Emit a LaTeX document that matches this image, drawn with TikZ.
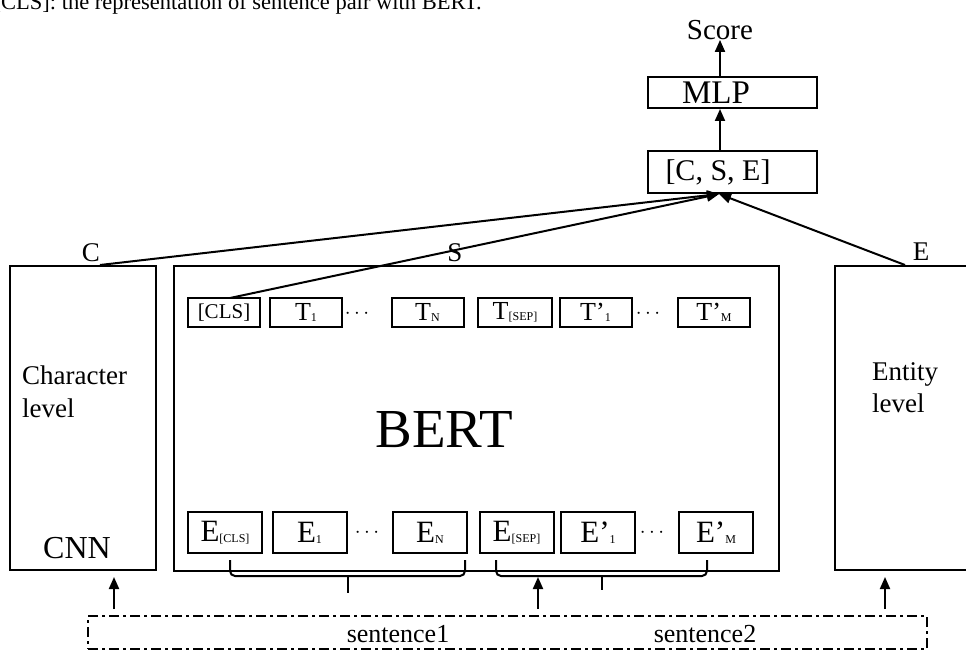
\documentclass[tikz,border=0pt]{standalone}
\usepackage{fontspec}
\setmainfont{Liberation Serif}
\usetikzlibrary{arrows.meta}
\newcommand\fsz[1]{\fontsize{#1}{#1}\selectfont}
\newcommand\sbs[1]{\raisebox{-1pt}{\fontsize{12}{12}\selectfont #1}}
\begin{document}
\begin{tikzpicture}[x=1pt,y=-1pt,
  bx/.style={draw, line width=2pt, inner sep=0pt},
  tb/.style={bx, minimum width=72pt, minimum height=29pt, font=\fsz{26}},
  eb/.style={bx, minimum width=74pt, minimum height=41pt, font=\fsz{31}},
  ar/.style={line width=2pt, -{Triangle[length=12pt,width=10pt]}},
  ln/.style={line width=2pt},
  txt/.style={inner sep=0pt},
  dts/.style={txt, font=\fsz{20}},
  dd/.style={line width=2pt, dash pattern=on 10pt off 4pt on 3pt off 4pt}]
\useasboundingbox (0,0) rectangle (966,650);

% caption fragment at the top (cut off in the reference)
\node[txt, anchor=base east, font=\fsz{22.5}] (cap) at (482,10) {[CLS]: the representation of sentence pair with BERT.};

% top stack
\node[txt, font=\fsz{29}] (score) at (720,30) {Score};
\node[bx, minimum width=169pt, minimum height=31pt] (mlp) at (732.5,92.5) {};
\node[txt, font=\fsz{33}] (mlpt) at (716,93) {MLP};
\node[bx, minimum width=169pt, minimum height=42pt] (cse) at (732.5,172) {};
\node[txt, font=\fsz{30}] (cset) at (718,172) {[C, S, E]};
\draw[ar] (mlp.north -| score.south) -- (score.south);
\draw[ar] (cse.north -| score.south) -- (mlp.south -| score.south);
\coordinate (tgt) at (719,194);

% big boxes
\node[bx, minimum width=146pt, minimum height=304pt, anchor=north west] (char) at (9,265) {};
\node[bx, minimum width=605pt, minimum height=305pt, anchor=north west] (bert) at (173,265) {};
\node[bx, minimum width=150pt, minimum height=304pt, anchor=north west] (ent) at (834,265) {};

\node[txt, font=\fsz{27}] (lc) at (91,253) {C};
\node[txt, font=\fsz{27}] (ls) at (455,253) {S};
\node[txt, font=\fsz{27}] (le) at (921,252) {E};

\node[txt, anchor=north west, align=left, font=\fontsize{27}{33}\selectfont] (chart) at (22,366) {Character\\level};
\node[txt, font=\fsz{32}] (cnn) at (77,548) {CNN};
\node[txt, anchor=north west, align=left, font=\fontsize{27}{32}\selectfont] (entt) at (872,362) {Entity\\level};
\node[txt, font=\fsz{55}] (bertt) at (444,430) {BERT};

% T row
\node[tb, font=\fsz{21}] (cls) at (224,312.5) {[CLS]};
\node[tb] (t1) at (306,312.5) {T\sbs{1}};
\node[dts] (td1) at (357,314) {$\cdots$};
\node[tb] (tn) at (427.5,312.5) {T\sbs{N}};
\node[tb, minimum width=74pt] (tsep) at (515,312.5) {T\sbs{[SEP]}};
\node[tb] (tp1) at (595.5,312.5) {T’\sbs{1}};
\node[dts] (td2) at (648,314) {$\cdots$};
\node[tb] (tpm) at (714,312.5) {T’\sbs{M}};

% E row
\node[eb] (ecls) at (225,532.5) {E\sbs{[CLS]}};
\node[eb] (e1) at (309.5,532.5) {E\sbs{1}};
\node[dts] (ed1) at (367,533) {$\cdots$};
\node[eb] (en) at (430,532.5) {E\sbs{N}};
\node[eb] (esep) at (516.5,532.5) {E\sbs{[SEP]}};
\node[eb] (ep1) at (598,532.5) {E’\sbs{1}};
\node[dts] (ed2) at (652,533) {$\cdots$};
\node[eb] (epm) at (716,532.5) {E’\sbs{M}};

% braces
\draw[ln, rounded corners=5pt] (230,560) -- (230,576) -- (465,576) -- (465,560);
\draw[ln] (348,576) -- (348,593);
\draw[ln, rounded corners=5pt] (496,560) -- (496,576) -- (707,576) -- (707,560);
\draw[ln] (602,576) -- (602,590);

% connectors to [C, S, E]
\coordinate (cstart) at (100,265);
\coordinate (clsstart) at (230,298);
\coordinate (estart) at (905,265);
\draw[ar] (cstart) -- (tgt);
\draw[ar] (clsstart) -- (tgt);
\draw[ar] (estart) -- (tgt);

% input box
\node[dd, draw, minimum width=839pt, minimum height=33pt, anchor=north west, inner sep=0pt] (sent) at (87,615) {};
\node[txt, font=\fsz{26}] (s1) at (398,634) {sentence1};
\node[txt, font=\fsz{26}] (s2) at (705,634) {sentence2};

\draw[ar, shorten <=6pt] (sent.north -| 114,0) -- (114,577);
\draw[ar, shorten <=6pt] (sent.north -| 538,0) -- (538,577);
\draw[ar, shorten <=6pt] (sent.north -| 885,0) -- (885,577);
\end{tikzpicture}
\end{document}
